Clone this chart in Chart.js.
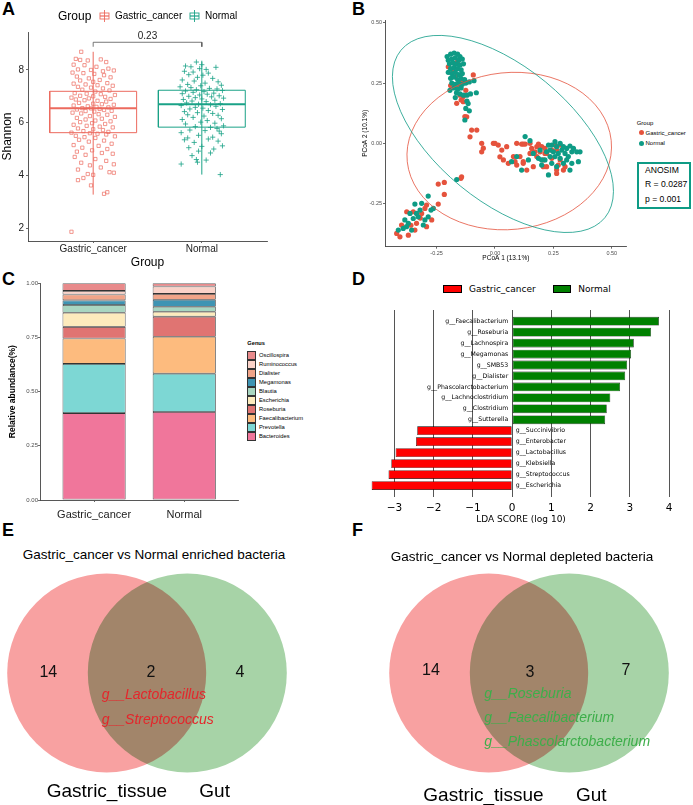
<!DOCTYPE html>
<html>
<head>
<meta charset="utf-8">
<script src="https://cdn.jsdelivr.net/npm/chart.js@4.4.1/dist/chart.umd.min.js"></script>
<style>
body { margin: 0; width: 693px; height: 805px; position: relative; background: #fff; overflow: hidden;
       font-family: "Liberation Sans", Arial, sans-serif; color: #000; }
canvas { position: absolute; }
.t { position: absolute; white-space: nowrap; line-height: 1; }
.box { position: absolute; box-sizing: border-box; }
</style>
</head>
<body>
<script>
// ---------- data ----------
// A: Shannon diversity
const groups = ['Gastric_cancer', 'Normal'];
const boxLow = [3.27, 4.03];
const boxQ1 = [5.62, 5.83];
const boxMedian = [6.55, 6.70];
const boxQ3 = [7.19, 7.23];
const boxHigh = [8.69, 8.35];
const pValue = '0.23';
// [jitter, shannon]
const gcShannon = [[-0.11,8.69],[-0.16,8.42],[-0.12,8.38],[-0.05,8.36],[0.07,8.40],[0.12,8.30],[-0.18,8.20],[-0.08,8.18],[0.03,8.12],[0.14,8.05],[-0.14,8.02],[-0.02,8.00],[0.19,7.98],[0.09,7.95],[-0.19,7.90],
  [-0.09,7.88],[0.01,7.85],[0.10,7.80],[-0.15,7.75],[0.16,7.72],[-0.04,7.68],[0.06,7.62],[-0.12,7.60],[0.00,7.55],[0.13,7.50],[-0.18,7.48],[-0.07,7.45],[0.04,7.42],[0.18,7.40],
  [-0.14,7.36],[-0.02,7.33],[0.09,7.30],[-0.10,7.25],[0.15,7.22],[0.02,7.18],[-0.17,7.12],[-0.06,7.10],[0.07,7.08],[0.20,7.05],[-0.12,7.02],[0.00,7.00],[0.11,6.98],[-0.20,6.95],[-0.04,6.92],[0.16,6.90],
  [-0.16,6.88],[-0.08,6.85],[0.04,6.83],[0.12,6.80],[-0.13,6.75],[0.00,6.72],[0.08,6.70],[0.19,6.68],[-0.18,6.65],[-0.05,6.62],[0.03,6.60],[0.14,6.58],[-0.10,6.55],[-0.02,6.54],[0.06,6.52],[-0.15,6.50],[0.10,6.48],[0.17,6.45],[-0.07,6.44],[0.01,6.42],
  [-0.19,6.38],[-0.11,6.35],[0.05,6.32],[0.13,6.30],[-0.03,6.25],[0.20,6.22],[-0.15,6.18],[0.08,6.15],[-0.07,6.12],[0.02,6.08],[0.16,6.05],[-0.12,6.02],[-0.01,5.98],[0.11,5.95],[-0.18,5.92],
  [-0.06,5.88],[0.06,5.85],[0.18,5.82],[-0.14,5.78],[0.00,5.75],[0.09,5.72],[-0.09,5.68],[0.14,5.65],[-0.20,5.62],[-0.03,5.60],[0.04,5.58],[0.12,5.55],[-0.16,5.50],[0.20,5.48],[-0.08,5.45],[0.02,5.42],
  [-0.13,5.35],[0.10,5.32],[-0.04,5.28],[0.17,5.20],[-0.18,5.15],[0.05,5.12],[-0.10,5.05],[0.13,5.00],[-0.01,4.95],[-0.15,4.90],[0.08,4.85],[0.18,4.82],
  [-0.07,4.78],[-0.17,4.70],[0.02,4.62],[0.12,4.55],[-0.11,4.48],[0.19,4.42],[-0.03,4.38],[0.07,4.30],[-0.14,4.22],[0.15,4.12],[-0.05,4.05],[0.00,4.02],
  [-0.14,3.82],[-0.09,3.90],[-0.02,3.62],[0.10,3.30],[0.13,3.36],[0.19,4.10],[-0.20,1.86]];
const normalShannon = [[-0.05,8.30],[-0.15,8.15],[-0.10,8.12],[0.13,8.10],[0.00,8.20],[-0.02,8.05],[0.04,8.02],
  [-0.16,7.95],[-0.08,7.92],[0.06,7.88],[-0.12,7.82],[0.01,7.80],[-0.04,7.72],[0.10,7.68],[-0.18,7.62],[-0.07,7.58],[0.15,7.55],[0.03,7.50],[-0.13,7.45],[0.18,7.42],[-0.01,7.40],
  [-0.20,7.36],[-0.10,7.33],[0.07,7.30],[0.14,7.28],[-0.05,7.25],[0.19,7.22],[-0.15,7.20],[0.02,7.18],[-0.08,7.15],[0.11,7.12],[-0.18,7.10],[0.05,7.08],[-0.02,7.05],[0.16,7.02],[-0.12,7.00],[0.09,6.98],[-0.06,6.95],[0.20,6.93],[0.00,6.90],
  [-0.17,6.88],[0.12,6.85],[-0.09,6.82],[0.04,6.80],[-0.14,6.75],[0.17,6.72],[-0.03,6.70],[0.08,6.68],[-0.19,6.65],[0.13,6.62],[-0.06,6.58],[0.01,6.55],[-0.11,6.52],[0.19,6.50],[0.06,6.46],[-0.16,6.42],
  [-0.04,6.38],[0.10,6.35],[-0.13,6.30],[0.15,6.28],[0.02,6.25],[-0.08,6.20],[0.18,6.15],[-0.18,6.12],[0.05,6.08],[-0.01,6.02],[0.12,5.98],[-0.15,5.95],
  [0.20,5.88],[-0.06,5.85],[0.08,5.82],[0.14,5.78],[-0.11,5.72],[0.03,5.70],[0.16,5.68],[-0.19,5.62],[0.18,5.58],[-0.03,5.52],[0.10,5.45],[-0.13,5.42],
  [0.06,5.38],[-0.16,5.35],[0.15,5.30],[-0.07,5.25],[0.19,5.12],[0.00,5.10],[-0.12,5.05],[0.11,5.00],[-0.03,4.92],[0.08,4.85],[-0.09,4.75],[-0.05,4.60],[0.04,4.58],
  [-0.19,4.43],[0.17,4.03],[-0.04,4.50]];

// B: PCoA coordinates [PCoA1, PCoA2]
const gcPcoa = [[-0.20,0.318],[-0.17,0.277],[-0.093,0.284],[-0.15,0.20],[-0.136,0.194],[-0.164,0.166],[-0.136,0.173],[-0.121,0.11],[-0.129,0.111],
  [-0.1,0.055],[-0.078,0.055],[-0.107,0.027],[-0.057,0.0],[-0.05,-0.02],[-0.057,-0.035],[-0.18,0.30],[-0.155,0.24],[-0.14,0.26],[-0.125,0.22],[-0.19,0.24],[-0.16,0.34],[-0.145,0.18],
  [-0.007,0.0],[0.014,-0.007],[0.05,-0.014],[0.029,-0.028],[0.093,0.0],[0.121,-0.003],[0.15,0.0],[0.036,-0.069],[0.057,-0.083],[0.093,-0.09],[0.121,-0.076],[0.079,-0.055],
  [0.179,-0.014],[0.193,-0.035],[0.221,-0.042],[0.243,-0.062],[0.279,-0.069],[0.3,-0.097],[0.264,-0.11],[0.207,-0.097],[0.157,-0.021],[0.214,-0.021],[0.264,-0.028],[0.179,-0.055],
  [0.114,-0.003],[0.129,-0.003],[0.107,-0.055],[0.121,-0.083],[0.15,-0.042],[0.171,-0.035],[0.186,-0.003],[0.2,-0.014],[0.214,-0.042],[0.207,-0.069],[0.221,-0.097],[0.243,-0.028],
  [0.257,-0.007],[0.279,-0.007],[0.271,-0.09],[0.164,-0.097],[0.136,-0.111],[0.264,-0.125],[0.293,-0.111],[0.086,-0.076],[0.021,-0.056],[0.0,0.0],
  [-0.143,-0.139],[-0.146,-0.145],[-0.243,-0.169],[-0.217,-0.162],[-0.217,-0.212],[-0.243,-0.252],[-0.293,-0.256],[-0.35,-0.284],[-0.378,-0.284],[-0.314,-0.291],[-0.336,-0.332],
  [-0.4,-0.339],[-0.421,-0.374],[-0.407,-0.388],[-0.371,-0.381],[-0.343,-0.36],[-0.271,-0.318],[-0.293,-0.346],[-0.32,-0.31],[-0.3,-0.27],[-0.36,-0.34]];
const normalPcoa = [[-0.205,0.36],[-0.19,0.37],[-0.175,0.375],[-0.16,0.37],[-0.15,0.36],[-0.2,0.345],[-0.185,0.35],[-0.17,0.355],[-0.155,0.345],[-0.14,0.35],
  [-0.195,0.33],[-0.18,0.335],[-0.165,0.33],[-0.15,0.325],[-0.135,0.33],[-0.19,0.31],[-0.175,0.315],[-0.16,0.31],[-0.145,0.305],[-0.2,0.295],[-0.185,0.29],[-0.17,0.295],
  [-0.155,0.285],[-0.14,0.29],[-0.19,0.27],[-0.175,0.275],[-0.16,0.265],[-0.145,0.27],[-0.13,0.265],[-0.185,0.25],[-0.17,0.245],[-0.155,0.25],[-0.14,0.245],[-0.125,0.25],
  [-0.175,0.23],[-0.16,0.225],[-0.145,0.23],[-0.11,0.255],[-0.09,0.26],[-0.165,0.21],[-0.15,0.205],[-0.135,0.2],[-0.12,0.2],[-0.105,0.205],[-0.08,0.21],[-0.193,0.22],
  [-0.17,0.19],[-0.12,0.175],[-0.115,0.165],[-0.125,0.145],[-0.129,0.097],[-0.11,0.135],
  [0.129,0.028],[0.15,0.011],[0.071,-0.076],[0.093,-0.055],[0.114,-0.111],[0.143,-0.069],[0.164,-0.042],[0.186,-0.062],[0.2,-0.09],[0.221,-0.035],[0.229,-0.007],[0.236,-0.055],
  [0.243,-0.083],[0.25,-0.035],[0.264,-0.014],[0.271,-0.042],[0.279,-0.062],[0.286,-0.028],[0.293,-0.014],[0.3,-0.042],[0.307,-0.021],[0.314,-0.055],[0.321,-0.011],[0.329,-0.035],
  [0.336,-0.021],[0.35,-0.035],[0.364,-0.035],[0.357,-0.076],[0.329,-0.083],[0.321,-0.111],[0.264,-0.097],[0.229,-0.131],[0.243,-0.007],[0.257,0.007],[0.279,0.0],[0.214,-0.069],
  [0.193,-0.028],[0.293,-0.083],[0.307,-0.069],[0.236,-0.028],[0.257,-0.055],[0.2,-0.069],
  [-0.164,-0.15],[-0.286,-0.219],[-0.264,-0.27],[-0.314,-0.249],[-0.343,-0.252],[-0.274,-0.277],[-0.364,-0.291],[-0.329,-0.305],[-0.3,-0.318],[-0.386,-0.318],[-0.371,-0.332],
  [-0.414,-0.36],[-0.393,-0.353],[-0.357,-0.36],[-0.286,-0.305],[-0.307,-0.339],[-0.35,-0.312],[-0.336,-0.291],[-0.379,-0.346],[-0.321,-0.277]];
const pcoaTicks = [-0.25, 0, 0.25, 0.5];
const anosim = ['ANOSIM', 'R = 0.0287', 'p = 0.001'];

// C: relative abundance, bottom to top
const genera = ['Bacteroides','Prevotella','Faecalibacterium','Roseburia','Escherichia','Blautia','Megamonas','Dialister','Ruminococcus','Oscillospira'];
const gcAbund = [0.401, 0.227, 0.117, 0.054, 0.065, 0.036, 0.021, 0.027, 0.017, 0.035];
const normalAbund = [0.406, 0.177, 0.170, 0.093, 0.023, 0.023, 0.032, 0.027, 0.034, 0.015];
const genusColors = ['#F0769B','#7DD7D4','#FDBB7E','#E07472','#FDEBBD','#A8D6C1','#3E94B3','#F1A488','#FAD2C8','#E88A8B'];

// D: LEfSe
const ldaTaxa = ['g__Faecalibacterium','g__Roseburia','g__Lachnospira','g__Megamonas','g__SMB53','g__Dialister','g__Phascolarctobacterium','g__Lachnoclostridium','g__Clostridium','g__Sutterella',
  'g__Succinivibrio','g__Enterobacter','g__Lactobacillus','g__Klebsiella','g__Streptococcus','g__Escherichia'];
const ldaScores = [3.74, 3.54, 3.10, 3.03, 2.93, 2.88, 2.75, 2.50, 2.41, 2.37, -2.42, -2.45, -2.97, -3.08, -3.15, -3.58];
const ldaTicks = [-3, -2, -1, 0, 1, 2, 3, 4];

// E, F: Venn
const vennSets = ['Gastric_tissue', 'Gut'];
const enrichedCounts = [14, 2, 4];
const enrichedShared = ['g__Lactobacillus', 'g__Streptococcus'];
const depletedCounts = [14, 3, 7];
const depletedShared = ['g__Roseburia', 'g__Faecalibacterium', 'g__Phascolarctobacterium'];

// ---------- helpers ----------
const RED_A = '#EC6A5E', TEAL_A = '#1AA287';
const RED_B = '#E5533D', TEAL_B = '#0E9B85';
Chart.defaults.font.family = '"Liberation Sans", Arial, sans-serif';
Chart.defaults.animation = false;
Chart.defaults.responsive = false;
Chart.defaults.plugins.legend.display = false;
Chart.defaults.plugins.tooltip.enabled = false;

function makeCanvas(left, top, w, h) {
    let c = document.createElement('canvas');
    c.width = w; c.height = h;
    c.style.left = left + 'px'; c.style.top = top + 'px';
    c.style.width = w + 'px'; c.style.height = h + 'px';
    document.body.appendChild(c);
    return c;
}

function addText(str, x, y, size, extra = '', align = 'left') {
    let d = document.createElement('div');
    d.className = 't';
    d.textContent = str;
    let tx = align === 'center' ? '-50%' : (align === 'right' ? '-100%' : '0');
    d.style.cssText = `left:${x}px;top:${y}px;font-size:${size}px;transform:translate(${tx},-50%);` + extra;
    document.body.appendChild(d);
    return d;
}

function addBox(x, y, w, h, css) {
    let d = document.createElement('div');
    d.className = 'box';
    d.style.cssText = `left:${x}px;top:${y}px;width:${w}px;height:${h}px;` + css;
    document.body.appendChild(d);
}

function ggAxis(extra) {
    return Object.assign({
        grid: { drawOnChartArea: false, tickLength: 2, color: '#444', lineWidth: 0.8 },
        border: { color: '#444', width: 0.9 }
    }, extra);
}

// panel letters
[['A', 2, 9], ['B', 352, 9], ['C', 2, 279], ['D', 352, 279], ['E', 2, 530], ['F', 352, 530]].forEach(l => {
    addText(l[0], l[1], l[2], 18, 'font-weight:bold;');
});

// ---------- A: boxplot ----------
function boxDatasets(i, color) {
    const c = i + 1, w = 0.4;
    const line = { showLine: true, borderColor: color, pointRadius: 0, fill: false };
    return [
        Object.assign({ data: [{x: c - w, y: boxQ1[i]}, {x: c + w, y: boxQ1[i]}, {x: c + w, y: boxQ3[i]}, {x: c - w, y: boxQ3[i]}, {x: c - w, y: boxQ1[i]}], borderWidth: 1 }, line),
        Object.assign({ data: [{x: c, y: boxLow[i]}, {x: c, y: boxHigh[i]}], borderWidth: 1 }, line),
        Object.assign({ data: [{x: c - w, y: boxMedian[i]}, {x: c + w, y: boxMedian[i]}], borderWidth: 2 }, line)
    ];
}

const pLabelPlugin = {
    id: 'pLabel',
    afterDatasetsDraw(chart) {
        const {ctx, scales: {x, y}} = chart;
        ctx.save();
        ctx.font = '10px "Liberation Sans"';
        ctx.fillStyle = '#222';
        ctx.textAlign = 'center';
        ctx.textBaseline = 'middle';
        ctx.fillText(pValue, x.getPixelForValue(1.5), y.getPixelForValue(9.29));
        ctx.restore();
    }
};

new Chart(makeCanvas(0, 0, 280, 270), {
    type: 'scatter',
    data: {
        datasets: [
            { data: gcShannon.map(p => ({x: 1 + p[0], y: p[1]})), pointStyle: 'rect', pointRadius: 2.3,
              borderColor: RED_A, backgroundColor: 'rgba(0,0,0,0)', borderWidth: 0.7 },
            { data: normalShannon.map(p => ({x: 2 + p[0], y: p[1]})), pointStyle: 'cross', pointRadius: 2.6,
              borderColor: TEAL_A, borderWidth: 0.8 },
            ...boxDatasets(0, RED_A),
            ...boxDatasets(1, TEAL_A),
            { data: [{x: 1, y: 8.88}, {x: 1, y: 9.05}, {x: 2, y: 9.05}, {x: 2, y: 8.88}], showLine: true,
              borderColor: '#555', borderWidth: 0.8, pointRadius: 0 }
        ]
    },
    options: {
        layout: { padding: { top: 32, right: 13, left: 0, bottom: 0 } },
        scales: {
            x: ggAxis({
                min: 0.4, max: 2.6,
                afterBuildTicks: s => { s.ticks = [{value: 1}, {value: 2}]; },
                afterFit: s => { s.height = 29; },
                ticks: { callback: v => groups[v - 1], font: { size: 10 }, color: '#222', padding: 0 },
                title: { display: true, text: 'Group', font: { size: 12 }, color: '#000', padding: 0 }
            }),
            y: ggAxis({
                min: 1.51, max: 9.44,
                afterBuildTicks: s => { s.ticks = [2, 4, 6, 8].map(v => ({value: v})); },
                afterFit: s => { s.width = 28; },
                ticks: { font: { size: 10 }, color: '#222', padding: 2 },
                title: { display: true, text: 'Shannon', font: { size: 12 }, color: '#000', padding: 0 }
            })
        }
    },
    plugins: [pLabelPlugin]
});

// A legend
function legendKey(x, color) {
    const ns = 'http://www.w3.org/2000/svg';
    let svg = document.createElementNS(ns, 'svg');
    svg.setAttribute('width', 11); svg.setAttribute('height', 12);
    svg.style.cssText = `position:absolute;left:${x}px;top:9.5px;`;
    svg.innerHTML = `<line x1="5.5" y1="0" x2="5.5" y2="12" stroke="${color}" stroke-width="0.9"/>` +
        `<rect x="1" y="3" width="9" height="6" fill="none" stroke="${color}" stroke-width="0.9"/>` +
        `<line x1="1" y1="6" x2="10" y2="6" stroke="${color}" stroke-width="1.2"/>`;
    document.body.appendChild(svg);
}
addText('Group', 58, 15.5, 12);
legendKey(99, RED_A);
addText(groups[0], 115, 15.5, 10);
legendKey(189, TEAL_A);
addText(groups[1], 205, 15.5, 10);

// ---------- B: PCoA ----------
const gcEllipse = { cx: 0.061, cy: -0.032, rx: 0.439, ry: 0.336, angle: -6, color: RED_B };
const normalEllipse = { cx: 0.034, cy: 0.039, rx: 0.565, ry: 0.288, angle: 39.4, color: TEAL_B };

const ellipsePlugin = {
    id: 'ellipses',
    afterDatasetsDraw(chart) {
        const {ctx, scales: {x, y}} = chart;
        const k = x.getPixelForValue(1) - x.getPixelForValue(0);
        [gcEllipse, normalEllipse].forEach(e => {
            ctx.save();
            ctx.beginPath();
            ctx.ellipse(x.getPixelForValue(e.cx), y.getPixelForValue(e.cy), e.rx * k, e.ry * k,
                e.angle * Math.PI / 180, 0, 2 * Math.PI);
            ctx.strokeStyle = e.color;
            ctx.lineWidth = 0.8;
            ctx.stroke();
            ctx.restore();
        });
    }
};

new Chart(makeCanvas(361, 0, 274, 262), {
    type: 'scatter',
    data: {
        datasets: [
            { data: normalPcoa.map(p => ({x: p[0], y: p[1]})), backgroundColor: TEAL_B, pointRadius: 2.6, borderWidth: 0 },
            { data: gcPcoa.map(p => ({x: p[0], y: p[1]})), backgroundColor: RED_B, pointRadius: 2.6, borderWidth: 0 }
        ]
    },
    options: {
        layout: { padding: { top: 20, right: 8.3, left: 0, bottom: 0 } },
        scales: {
            x: ggAxis({
                min: -0.471, max: 0.564,
                afterBuildTicks: s => { s.ticks = pcoaTicks.map(v => ({value: v})); },
                afterFit: s => { s.height = 15.3; },
                ticks: { callback: v => v.toFixed(2), font: { size: 5.5 }, color: '#4d4d4d', padding: 1 },
                title: { display: true, text: 'PCoA 1 (13.1%)', font: { size: 6.5 }, color: '#000', padding: 0 }
            }),
            y: ggAxis({
                min: -0.429, max: 0.512,
                afterBuildTicks: s => { s.ticks = pcoaTicks.map(v => ({value: v})); },
                afterFit: s => { s.width = 24; },
                ticks: { callback: v => v.toFixed(2), font: { size: 5.5 }, color: '#4d4d4d', padding: 1 },
                title: { display: true, text: 'PCoA 2 (10.1%)', font: { size: 6.5 }, color: '#000', padding: 0 }
            })
        }
    },
    plugins: [ellipsePlugin]
});

addText('Group', 636.7, 122.7, 6);
addBox(638.5, 130.2, 5, 5, `border-radius:50%;background:${RED_B};`);
addText(groups[0], 645.5, 132.7, 6);
addBox(638.5, 140.8, 5, 5, `border-radius:50%;background:${TEAL_B};`);
addText(groups[1], 645.5, 143.3, 6);
addBox(637.3, 162.3, 53.4, 47, `border:2.3px solid ${TEAL_B};`);
anosim.forEach((s, i) => addText(s, 645, [170, 184.3, 199.3][i], 8.6));

// ---------- C: stacked bars ----------
new Chart(makeCanvas(8, 275, 232, 250), {
    type: 'bar',
    data: {
        datasets: genera.map((g, i) => ({
            label: g,
            data: [{x: 1, y: gcAbund[i]}, {x: 2, y: normalAbund[i]}],
            backgroundColor: genusColors[i],
            borderColor: '#333', borderWidth: 0.8, borderSkipped: false,
            barPercentage: 0.7, categoryPercentage: 1
        }))
    },
    options: {
        layout: { padding: { top: 8.3, right: 1.7, left: 0, bottom: 0 } },
        scales: {
            x: ggAxis({
                type: 'linear', min: 0.4, max: 2.6, offset: false, stacked: true,
                grid: { drawOnChartArea: false, tickLength: 2, color: '#444', lineWidth: 0.8, offset: false },
                afterBuildTicks: s => { s.ticks = [{value: 1}, {value: 2}]; },
                afterFit: s => { s.height = 25; },
                ticks: { callback: v => groups[v - 1], font: { size: 11 }, color: '#222', padding: 6 }
            }),
            y: ggAxis({
                stacked: true, min: 0, max: 1,
                afterBuildTicks: s => { s.ticks = [0, 0.25, 0.5, 0.75, 1].map(v => ({value: v})); },
                afterFit: s => { s.width = 32; },
                ticks: { callback: v => v.toFixed(2), font: { size: 6 }, color: '#4d4d4d', padding: 0 },
                title: { display: true, text: 'Relative abundance(%)', font: { size: 8.5, weight: 'bold' }, color: '#000', padding: 0 }
            })
        }
    }
});

addText('Genus', 247.3, 344.3, 5.7, 'font-weight:bold;');
genera.slice().reverse().forEach((g, i) => {
    const c = genusColors[genera.length - 1 - i];
    addBox(247.3, 351 + 9 * i, 8.4, 9, `background:${c};border:0.7px solid #333;`);
    addText(g, 259, 355.5 + 9 * i, 5.8);
});

// ---------- D: LDA ----------
const ldaLabelPlugin = {
    id: 'ldaLabels',
    afterDatasetsDraw(chart) {
        const {ctx, scales: {x, y}} = chart;
        const x0 = x.getPixelForValue(0);
        ctx.save();
        ctx.font = '6.2px "DejaVu Sans"';
        ctx.fillStyle = '#000';
        ctx.textBaseline = 'middle';
        ldaTaxa.forEach((t, i) => {
            const py = y.getPixelForValue(i);
            if (ldaScores[i] > 0) {
                ctx.textAlign = 'right';
                ctx.fillText(t, x0 - 4, py);
            } else {
                ctx.textAlign = 'left';
                ctx.fillText(t, x0 + 3.5, py);
            }
        });
        ctx.restore();
    }
};

new Chart(makeCanvas(350, 300, 343, 225), {
    type: 'bar',
    data: {
        datasets: [{
            data: ldaScores.map((v, i) => ({x: v, y: i})),
            backgroundColor: ctx => (ctx.raw && ctx.raw.x > 0) ? '#008000' : '#FF0000',
            borderColor: '#000', borderWidth: 0.6, borderSkipped: false,
            barPercentage: 0.8, categoryPercentage: 1
        }]
    },
    options: {
        indexAxis: 'y',
        layout: { padding: { top: 10, right: 16, left: 15, bottom: 0 } },
        scales: {
            y: { type: 'linear', reverse: true, min: -1.02, max: 16.02, offset: false, display: false,
                 grid: { offset: false } },
            x: {
                min: -3.75, max: 4.2,
                afterBuildTicks: s => { s.ticks = ldaTicks.map(v => ({value: v})); },
                afterFit: s => { s.height = 28.3; },
                grid: { drawTicks: false, color: '#555', lineWidth: 1 },
                border: { display: false },
                ticks: { callback: v => v < 0 ? '\u2212' + (-v) : String(v),
                         font: { size: 10.5, family: '"DejaVu Sans"' }, color: '#000', padding: 5 },
                title: { display: true, text: 'LDA SCORE (log 10)', font: { size: 9, family: '"DejaVu Sans"' }, color: '#000', padding: 0 }
            }
        }
    },
    plugins: [ldaLabelPlugin]
});

addBox(443.3, 285, 18.4, 8.3, 'background:#FF0000;border:0.8px solid #000;');
addText('Gastric_cancer', 469, 289, 9, 'font-family:"DejaVu Sans";');
addBox(552.7, 285, 18.4, 8.3, 'background:#008000;border:0.8px solid #000;');
addText('Normal', 578.3, 289, 9, 'font-family:"DejaVu Sans";');

// ---------- E, F: Venn ----------
const vennX = [-0.403, 0.403];
const vennR = 0.995;
const vennFill = ['#F8A1A1', '#A7D3A7'];

const multiplyPlugin = {
    id: 'multiply',
    beforeDatasetsDraw(chart) { chart.ctx.save(); chart.ctx.globalCompositeOperation = 'multiply'; },
    afterDatasetsDraw(chart) { chart.ctx.restore(); }
};

function vennChart(left, width) {
    const half = width / 200;
    new Chart(makeCanvas(left, 563, width, 220), {
        type: 'scatter',
        data: {
            datasets: vennSets.map((s, i) => ({
                label: s,
                data: [{x: vennX[i], y: 0}],
                backgroundColor: vennFill[i],
                borderWidth: 0,
                clip: false,
                pointRadius: ctx => {
                    const sx = ctx.chart.scales && ctx.chart.scales.x;
                    if (!sx || !sx.width) return 0;
                    return sx.getPixelForValue(vennR) - sx.getPixelForValue(0);
                }
            }))
        },
        options: {
            layout: { padding: 0, autoPadding: false },
            scales: {
                x: { display: false, min: -half, max: half },
                y: { display: false, min: -1.1, max: 1.1 }
            }
        },
        plugins: [multiplyPlugin]
    });
}
vennChart(0, 294);
vennChart(378.5, 300);

addText('Gastric_cancer vs Normal enriched bacteria', 22.7, 555, 13.5);
addText(enrichedCounts[0], 48.3, 671.7, 16, 'color:#111;', 'center');
addText(enrichedCounts[1], 151, 671.7, 16, 'color:#111;', 'center');
addText(enrichedCounts[2], 240, 671.7, 16, 'color:#111;', 'center');
enrichedShared.forEach((s, i) => addText(s, 101.7, [694, 719][i], 14, 'font-style:italic;color:#E4262B;'));
addText(vennSets[0], 46.7, 790, 19);
addText(vennSets[1], 199.3, 790, 19);

addText('Gastric_cancer vs Normal depleted bacteria', 390.7, 556.7, 13.5);
addText(depletedCounts[0], 431, 670, 16, 'color:#111;', 'center');
addText(depletedCounts[1], 530, 672, 16, 'color:#111;', 'center');
addText(depletedCounts[2], 626, 670, 16, 'color:#111;', 'center');
depletedShared.forEach((s, i) => addText(s, 484.3, [692.7, 716.7, 741][i], 14, 'font-style:italic;color:#3DAE4A;'));
addText(vennSets[0], 423.3, 794, 19);
addText(vennSets[1], 576, 794, 19);
</script>
</body>
</html>
